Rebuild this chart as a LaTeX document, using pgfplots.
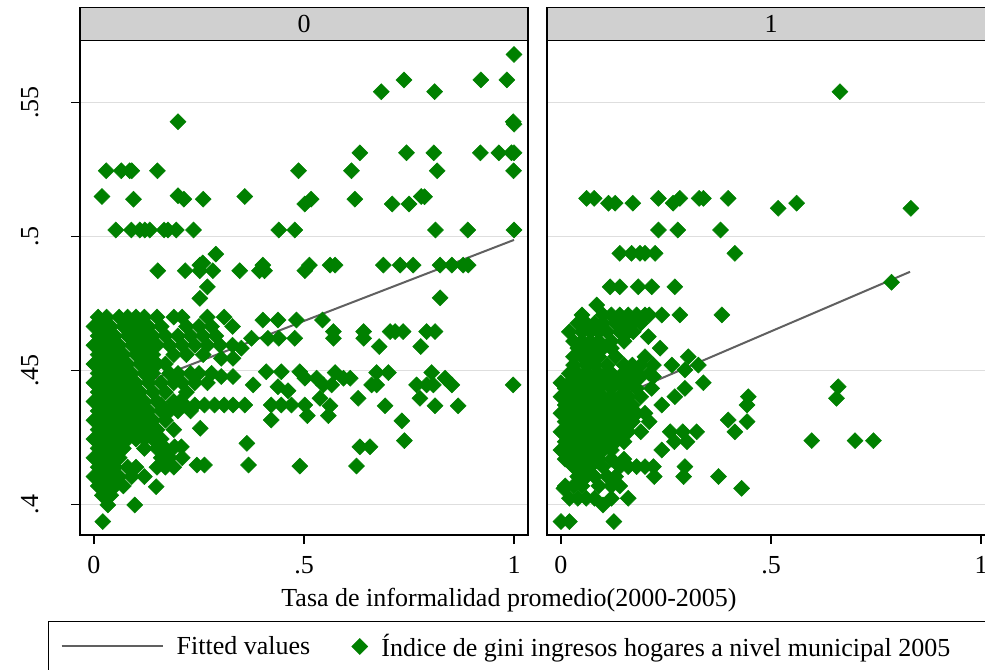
\documentclass[border=0pt]{standalone}
\usepackage{fontspec}
\setmainfont{Liberation Serif}
\usepackage{pgfplots}
\pgfplotsset{compat=1.18}
\definecolor{stgreen}{RGB}{0,128,0}
\definecolor{fitgray}{RGB}{96,96,96}
\definecolor{gridgray}{RGB}{222,222,222}
\definecolor{stripgray}{RGB}{208,208,208}
\newcommand{\bigfont}{\fontsize{26bp}{30bp}\selectfont}
\pgfplotsset{
  panel/.style={
    scale only axis, width=448bp, height=495bp,
    xmin=-0.0333, xmax=1.0333, ymin=0.38869, ymax=0.5734,
    xtick={0,0.5,1}, xticklabels={0,.5,1},
    ytick={0.4,0.45,0.5,0.55},
    ymajorgrids, major grid style={gridgray, line width=1.5bp},
    axis line style={line width=1.5bp},
    tick style={black, line width=1.2bp},
    tick align=outside, major tick length=9bp,
    xtick pos=lower, ytick pos=lower,
    clip=false,
    tick label style={font=\bigfont},
    xticklabel style={yshift=-9bp},
    title style={at={(0.5,1)}, anchor=south, draw=black, line width=1.2bp, fill=stripgray,
      minimum width=448bp, minimum height=33bp, inner sep=0pt, font=\bigfont, yshift=-7bp},
  },
  gmark/.style={only marks, mark=square*, mark size=5.66bp, stgreen,
    mark options={rotate=45, fill=stgreen, draw=stgreen, line width=0.5bp}},
  fitline/.style={fitgray, line width=2bp, no marks},
  gleg/.style={legend image code/.code={\path (0bp,0bp) -- (16bp,0bp); \draw[##1] plot coordinates {(8bp,0bp)};}},
  lleg/.style={legend image code/.code={\draw[##1] (0bp,0bp) -- (98bp,0bp); \path (98bp,0bp) -- (101bp,0bp);}},
}
\begin{document}
\begin{tikzpicture}
\useasboundingbox (0,0) rectangle (985bp,670bp);
% ---------------- panel 0 ----------------
\begin{axis}[panel, at={(80bp,135bp)}, anchor=south west, title={0},
  yticklabels={.4,.45,.5,.55},
  yticklabel style={rotate=90, anchor=base, yshift=33bp},
  legend columns=2, reverse legend,
  legend style={at={(-0.0714,-0.1737)}, anchor=north west, draw=black, line width=1.2bp,
    inner xsep=12bp, inner ysep=13bp, font=\bigfont,
    nodes={inner sep=0pt},
    /tikz/every odd column/.style={column sep=13bp},
    /tikz/every even column/.style={column sep=41bp}},
]
\addplot[gmark, gleg] coordinates {
(1.000,0.5680) (0.738,0.5585) (0.921,0.5585) (0.983,0.5585) (0.684,0.5541) (0.811,0.5541)
(0.200,0.5429) (0.998,0.5429) (1.000,0.5420)
(0.633,0.5313) (0.744,0.5313) (0.809,0.5313) (0.920,0.5313) (0.964,0.5313) (0.994,0.5313) (1.000,0.5313)
(0.029,0.5246) (0.065,0.5246) (0.085,0.5246) (0.090,0.5246) (0.151,0.5246) (0.487,0.5246) (0.613,0.5246) (0.817,0.5246) (0.999,0.5246)
(0.019,0.5150) (0.094,0.5140) (0.200,0.5153) (0.214,0.5140) (0.260,0.5140) (0.359,0.5150) (0.502,0.5122) (0.517,0.5140)
(0.621,0.5140) (0.710,0.5122) (0.750,0.5122) (0.779,0.5150) (0.787,0.5149)
(0.052,0.5025) (0.089,0.5025) (0.109,0.5025) (0.121,0.5025) (0.133,0.5025) (0.167,0.5025) (0.176,0.5025) (0.196,0.5025)
(0.237,0.5025) (0.440,0.5025) (0.478,0.5025) (0.813,0.5025) (0.890,0.5025) (1.000,0.5025)
(0.290,0.4935) (0.252,0.4894) (0.402,0.4894) (0.513,0.4894) (0.562,0.4894) (0.574,0.4894) (0.689,0.4894) (0.729,0.4894)
(0.760,0.4894) (0.824,0.4894) (0.852,0.4894) (0.879,0.4894) (0.891,0.4894) (0.259,0.4902)
(0.152,0.4873) (0.217,0.4873) (0.252,0.4873) (0.283,0.4873) (0.347,0.4873) (0.394,0.4873) (0.406,0.4873) (0.502,0.4873)
(0.270,0.4813) (0.252,0.4770) (0.824,0.4772)
(0.402,0.4689) (0.438,0.4689) (0.482,0.4689) (0.544,0.4689)
(0.375,0.4621) (0.414,0.4621) (0.440,0.4621) (0.478,0.4621) (0.570,0.4621) (0.642,0.4621)
(0.570,0.4646) (0.642,0.4646) (0.705,0.4646) (0.717,0.4646) (0.736,0.4646) (0.792,0.4646) (0.812,0.4646)
(0.351,0.4584) (0.679,0.4590) (0.778,0.4590) (0.303,0.4546) (0.331,0.4546)
(0.410,0.4496) (0.446,0.4496) (0.490,0.4496) (0.574,0.4493) (0.673,0.4493) (0.701,0.4493) (0.804,0.4493)
(0.502,0.4472) (0.530,0.4472) (0.594,0.4472) (0.610,0.4472) (0.836,0.4472) (0.303,0.4478) (0.331,0.4478)
(0.379,0.4447) (0.438,0.4440) (0.462,0.4425) (0.546,0.4447) (0.566,0.4447) (0.661,0.4447) (0.673,0.4447) (0.768,0.4447)
(0.792,0.4447) (0.808,0.4447) (0.852,0.4447) (0.998,0.4447)
(0.538,0.4397) (0.629,0.4397) (0.776,0.4397) (0.562,0.4369) (0.693,0.4369) (0.812,0.4369) (0.867,0.4369)
(0.508,0.4332) (0.558,0.4332) (0.733,0.4313) (0.739,0.4239) (0.633,0.4216) (0.657,0.4216) (0.490,0.4144) (0.625,0.4144)
(0.160,0.4372) (0.216,0.4372) (0.240,0.4372) (0.263,0.4372) (0.287,0.4372) (0.310,0.4372) (0.331,0.4372) (0.359,0.4372)
(0.422,0.4372) (0.446,0.4372) (0.470,0.4372) (0.502,0.4372)
(0.422,0.4316) (0.253,0.4285) (0.364,0.4229) (0.192,0.4216) (0.208,0.4216) (0.368,0.4148) (0.263,0.4148) (0.245,0.4148)
(0.148,0.4067) (0.033,0.3999) (0.097,0.3999) (0.021,0.3937)
(0.01,0.4700) (0.03,0.4700) (0.06,0.4700) (0.08,0.4700) (0.10,0.4700) (0.12,0.4700) (0.15,0.4700) (0.19,0.4700) (0.21,0.4700) (0.27,0.4700) (0.31,0.4700)
(0.00,0.4665) (0.02,0.4665) (0.04,0.4665) (0.07,0.4665) (0.09,0.4665) (0.11,0.4665) (0.13,0.4665) (0.16,0.4665) (0.22,0.4665) (0.25,0.4665) (0.28,0.4665) (0.33,0.4665)
(0.01,0.4630) (0.03,0.4630) (0.05,0.4630) (0.08,0.4630) (0.10,0.4630) (0.12,0.4630) (0.14,0.4630) (0.17,0.4630) (0.20,0.4630) (0.23,0.4630) (0.26,0.4630) (0.29,0.4630)
(0.00,0.4595) (0.02,0.4595) (0.04,0.4595) (0.06,0.4595) (0.09,0.4595) (0.11,0.4595) (0.13,0.4595) (0.15,0.4595) (0.18,0.4595) (0.21,0.4595) (0.24,0.4595) (0.27,0.4595) (0.30,0.4595) (0.33,0.4595)
(0.01,0.4560) (0.03,0.4560) (0.05,0.4560) (0.07,0.4560) (0.10,0.4560) (0.12,0.4560) (0.14,0.4560) (0.19,0.4560) (0.22,0.4560) (0.26,0.4560)
(0.00,0.4525) (0.02,0.4525) (0.04,0.4525) (0.06,0.4525) (0.08,0.4525) (0.11,0.4525) (0.13,0.4525) (0.15,0.4525) (0.17,0.4525)
(0.01,0.4490) (0.03,0.4490) (0.05,0.4490) (0.07,0.4490) (0.09,0.4490) (0.12,0.4490) (0.14,0.4490) (0.18,0.4490) (0.20,0.4490) (0.23,0.4490) (0.25,0.4490) (0.28,0.4490)
(0.00,0.4455) (0.02,0.4455) (0.04,0.4455) (0.06,0.4455) (0.08,0.4455) (0.10,0.4455) (0.13,0.4455) (0.16,0.4455) (0.19,0.4455) (0.21,0.4455) (0.24,0.4455) (0.27,0.4455)
(0.01,0.4420) (0.03,0.4420) (0.05,0.4420) (0.07,0.4420) (0.09,0.4420) (0.11,0.4420) (0.14,0.4420) (0.17,0.4420) (0.22,0.4420)
(0.00,0.4385) (0.02,0.4385) (0.04,0.4385) (0.06,0.4385) (0.08,0.4385) (0.10,0.4385) (0.12,0.4385) (0.15,0.4385) (0.19,0.4385) (0.205,0.4385)
(0.01,0.4350) (0.03,0.4350) (0.05,0.4350) (0.07,0.4350) (0.09,0.4350) (0.11,0.4350) (0.13,0.4350) (0.16,0.4350) (0.18,0.4350) (0.20,0.4350) (0.23,0.4350)
(0.00,0.4315) (0.02,0.4315) (0.04,0.4315) (0.06,0.4315) (0.08,0.4315) (0.10,0.4315) (0.12,0.4315) (0.14,0.4315) (0.17,0.4315)
(0.01,0.4280) (0.03,0.4280) (0.05,0.4280) (0.07,0.4280) (0.09,0.4280) (0.11,0.4280) (0.13,0.4280) (0.15,0.4280) (0.19,0.4280)
(0.00,0.4245) (0.02,0.4245) (0.04,0.4245) (0.06,0.4245) (0.08,0.4245) (0.10,0.4245) (0.12,0.4245) (0.14,0.4245) (0.16,0.4245)
(0.01,0.4210) (0.03,0.4210) (0.05,0.4210) (0.07,0.4210) (0.12,0.4210) (0.15,0.4210) (0.17,0.4210)
(0.00,0.4175) (0.02,0.4175) (0.04,0.4175) (0.06,0.4175) (0.16,0.4175) (0.18,0.4175) (0.21,0.4175)
(0.01,0.4140) (0.03,0.4140) (0.05,0.4140) (0.08,0.4140) (0.10,0.4140) (0.15,0.4140) (0.17,0.4140) (0.19,0.4140)
(0.00,0.4105) (0.02,0.4105) (0.04,0.4105) (0.06,0.4105) (0.09,0.4105) (0.12,0.4105)
(0.01,0.4070) (0.03,0.4070) (0.05,0.4070) (0.07,0.4070) (0.02,0.4035) (0.04,0.4035)
};
\addlegendentry{Índice de gini ingresos hogares a nivel municipal 2005\hspace*{40bp}}
\addplot[fitline, lleg] coordinates {(0.0,0.4383) (1.0,0.4988)};
\addlegendentry{Fitted values}
\end{axis}
% ---------------- panel 1 ----------------
\begin{axis}[panel, at={(547bp,135bp)}, anchor=south west, title={1},
  yticklabels={}, ytick style={draw=none}]
\addplot[gmark] coordinates {
(0.664,0.5541)
(0.061,0.5143) (0.079,0.5143) (0.232,0.5143) (0.283,0.5143) (0.329,0.5143) (0.339,0.5143) (0.398,0.5143) (0.561,0.5125)
(0.113,0.5125) (0.129,0.5125) (0.171,0.5125) (0.267,0.5125) (0.517,0.5106) (0.833,0.5106)
(0.232,0.5025) (0.278,0.5025) (0.380,0.5025)
(0.140,0.4938) (0.168,0.4938) (0.188,0.4938) (0.200,0.4938) (0.224,0.4938) (0.414,0.4938)
(0.117,0.4813) (0.140,0.4813) (0.184,0.4813) (0.216,0.4813) (0.271,0.4813)
(0.085,0.4745) (0.240,0.4708) (0.283,0.4708) (0.383,0.4708) (0.208,0.4627)
(0.303,0.4552) (0.295,0.4503) (0.446,0.4403) (0.443,0.4372) (0.398,0.4316) (0.443,0.4310) (0.323,0.4272) (0.414,0.4272)
(0.375,0.4105) (0.430,0.4061)
(0.787,0.4830) (0.660,0.4440) (0.656,0.4397) (0.597,0.4239) (0.700,0.4239) (0.744,0.4239)
(0.05,0.4708) (0.10,0.4708) (0.12,0.4708) (0.14,0.4708) (0.16,0.4708) (0.18,0.4708) (0.20,0.4708) (0.21,0.4708)
(0.04,0.4677) (0.06,0.4677) (0.08,0.4677) (0.10,0.4677) (0.13,0.4677) (0.15,0.4677) (0.17,0.4677) (0.19,0.4677)
(0.02,0.4645) (0.05,0.4645) (0.07,0.4645) (0.09,0.4645) (0.11,0.4645) (0.14,0.4645) (0.16,0.4645) (0.172,0.4645)
(0.03,0.4610) (0.05,0.4610) (0.07,0.4610) (0.09,0.4610) (0.12,0.4610) (0.15,0.4610)
(0.04,0.4584) (0.06,0.4584) (0.08,0.4584) (0.10,0.4584) (0.12,0.4584) (0.236,0.4584)
(0.03,0.4552) (0.05,0.4552) (0.07,0.4552) (0.09,0.4552) (0.13,0.4552) (0.20,0.4552)
(0.03,0.4521) (0.06,0.4521) (0.08,0.4521) (0.11,0.4521) (0.15,0.4521) (0.17,0.4521) (0.19,0.4521) (0.22,0.4521) (0.264,0.4521) (0.327,0.4521)
(0.02,0.4490) (0.04,0.4490) (0.06,0.4490) (0.09,0.4490) (0.12,0.4490) (0.16,0.4490) (0.18,0.4490) (0.21,0.4490)
(0.03,0.4478) (0.05,0.4478) (0.07,0.4478) (0.10,0.4478) (0.14,0.4478) (0.159,0.4478) (0.19,0.4478) (0.22,0.4478)
(0.00,0.4455) (0.02,0.4455) (0.04,0.4455) (0.06,0.4455) (0.08,0.4455) (0.11,0.4455) (0.13,0.4455) (0.17,0.4455) (0.339,0.4455)
(0.01,0.4434) (0.03,0.4434) (0.05,0.4434) (0.07,0.4434) (0.09,0.4434) (0.12,0.4434) (0.15,0.4434) (0.18,0.4434) (0.216,0.4434) (0.295,0.4434)
(0.00,0.4403) (0.02,0.4403) (0.04,0.4403) (0.06,0.4403) (0.08,0.4403) (0.10,0.4403) (0.12,0.4403) (0.14,0.4403) (0.16,0.4403) (0.19,0.4403) (0.271,0.4403)
(0.01,0.4372) (0.03,0.4372) (0.05,0.4372) (0.07,0.4372) (0.09,0.4372) (0.11,0.4372) (0.13,0.4372) (0.15,0.4372) (0.17,0.4372) (0.24,0.4372)
(0.00,0.4341) (0.02,0.4341) (0.04,0.4341) (0.06,0.4341) (0.08,0.4341) (0.10,0.4341) (0.12,0.4341) (0.14,0.4341) (0.16,0.4341) (0.18,0.4341) (0.20,0.4341)
(0.01,0.4310) (0.03,0.4310) (0.05,0.4310) (0.07,0.4310) (0.09,0.4310) (0.11,0.4310) (0.13,0.4310) (0.15,0.4310) (0.17,0.4310) (0.21,0.4310)
(0.00,0.4272) (0.02,0.4272) (0.04,0.4272) (0.06,0.4272) (0.08,0.4272) (0.10,0.4272) (0.12,0.4272) (0.14,0.4272) (0.16,0.4272) (0.19,0.4272) (0.26,0.4272) (0.29,0.4272)
(0.01,0.4235) (0.03,0.4235) (0.05,0.4235) (0.07,0.4235) (0.09,0.4235) (0.11,0.4235) (0.13,0.4235) (0.15,0.4235) (0.27,0.4235) (0.30,0.4235)
(0.00,0.4204) (0.02,0.4204) (0.04,0.4204) (0.06,0.4204) (0.08,0.4204) (0.10,0.4204) (0.12,0.4204) (0.24,0.4204)
(0.01,0.4170) (0.03,0.4170) (0.05,0.4170) (0.07,0.4170) (0.09,0.4170) (0.12,0.4170) (0.15,0.4170)
(0.03,0.4142) (0.05,0.4142) (0.07,0.4142) (0.10,0.4142) (0.14,0.4142) (0.16,0.4142) (0.18,0.4142) (0.20,0.4142) (0.22,0.4142) (0.295,0.4142)
(0.04,0.4105) (0.06,0.4105) (0.08,0.4105) (0.11,0.4105) (0.13,0.4105) (0.222,0.4105) (0.292,0.4105)
(0.01,0.4070) (0.03,0.4070) (0.05,0.4070) (0.09,0.4070) (0.12,0.4070) (0.14,0.4070) (0.007,0.4061)
(0.02,0.4024) (0.04,0.4024) (0.06,0.4024) (0.08,0.4024) (0.12,0.4024) (0.16,0.4024) (0.10,0.3999)
(0.00,0.3937) (0.02,0.3937) (0.126,0.3937)
};
\addplot[fitline] coordinates {(0.0,0.4311) (0.831,0.4869)};
\end{axis}
\node[anchor=base, font=\bigfont] at (509bp,63bp) {Tasa de informalidad promedio(2000-2005)};
\end{tikzpicture}
\end{document}
